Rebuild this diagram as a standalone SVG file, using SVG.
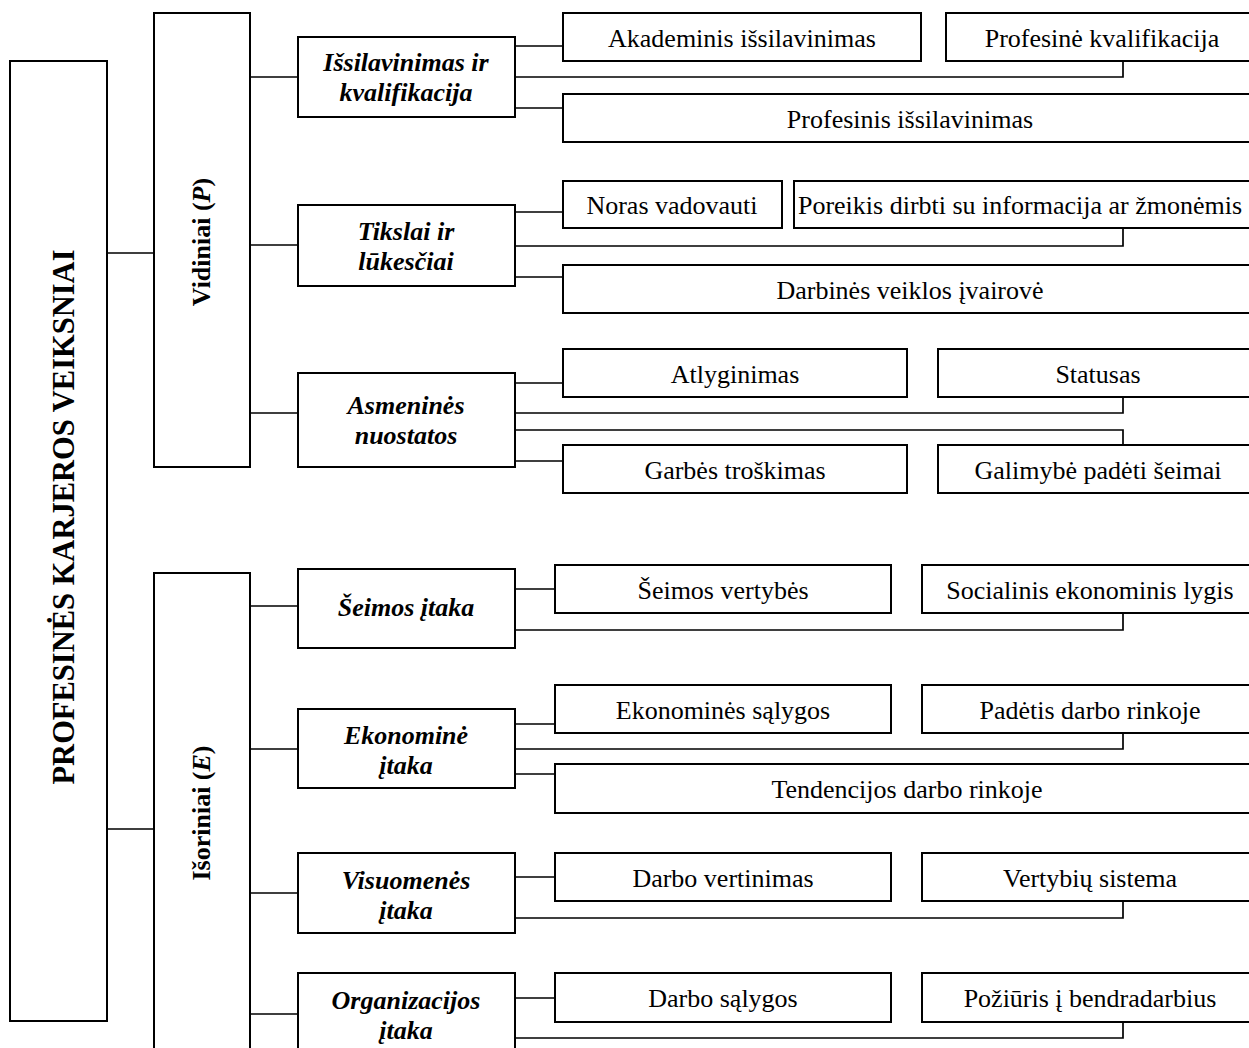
<svg xmlns="http://www.w3.org/2000/svg" width="1249" height="1048" viewBox="0 0 1249 1048">
<style>
.box{fill:#fff;stroke:#000;stroke-width:2}
.ln{fill:none;stroke:#000;stroke-width:1.7}
text{font-family:"Liberation Serif","Times New Roman",serif;fill:#000}
.leaf{font-size:26px;text-anchor:middle}
.cat{font-size:26px;font-weight:bold;font-style:italic;text-anchor:middle}
.vert{font-size:26px;font-weight:bold;text-anchor:middle}
</style>
<rect x="0" y="0" width="1249" height="1048" fill="#fff"/>
<g id="connectors">
<path class="ln" d="M107 253H154M107 829H154"/>
<path class="ln" d="M250 77H298M250 245H298M250 413H298"/>
<path class="ln" d="M250 606H298M250 749H298M250 893H298M250 1014H298"/>
<path class="ln" d="M515 46H563M515 77H1123V61M515 108H563"/>
<path class="ln" d="M515 212H563M515 246H1123V228M515 277H563"/>
<path class="ln" d="M515 383H563M515 413H1123V397M515 430H1123V445M515 461H563"/>
<path class="ln" d="M515 589H555M515 630H1123V613"/>
<path class="ln" d="M515 724H555M515 749H1123V733M515 774H555"/>
<path class="ln" d="M515 877H555M515 918H1123V901"/>
<path class="ln" d="M515 998H555M515 1038H1123V1022"/>
</g>
<g id="root"><rect class="box" x="10" y="61" width="97" height="960"/><text class="vert" style="font-size:30.5px" transform="translate(74 517) rotate(-90)">PROFESINĖS KARJEROS VEIKSNIAI</text></g>
<g id="vidiniai"><rect class="box" x="154" y="13" width="96" height="454"/><text class="vert" transform="translate(210 242) rotate(-90)">Vidiniai (<tspan font-style="italic">P</tspan>)</text></g>
<g id="isoriniai"><rect class="box" x="154" y="573" width="96" height="500"/><text class="vert" transform="translate(210 813) rotate(-90)">Išoriniai (<tspan font-style="italic">E</tspan>)</text></g>
<g id="c1"><rect class="box" x="298" y="37" width="217" height="80"/><text class="cat" x="406" y="71">Išsilavinimas ir</text><text class="cat" x="406" y="101">kvalifikacija</text></g>
<g id="c2"><rect class="box" x="298" y="205" width="217" height="81"/><text class="cat" x="406" y="240">Tikslai ir</text><text class="cat" x="406" y="270">lūkesčiai</text></g>
<g id="c3"><rect class="box" x="298" y="373" width="217" height="94"/><text class="cat" x="406" y="414">Asmeninės</text><text class="cat" x="406" y="444">nuostatos</text></g>
<g id="c4"><rect class="box" x="298" y="569" width="217" height="79"/><text class="cat" x="406" y="616">Šeimos įtaka</text></g>
<g id="c5"><rect class="box" x="298" y="709" width="217" height="79"/><text class="cat" x="406" y="744">Ekonominė</text><text class="cat" x="406" y="774">įtaka</text></g>
<g id="c6"><rect class="box" x="298" y="853" width="217" height="80"/><text class="cat" x="406" y="889">Visuomenės</text><text class="cat" x="406" y="919">įtaka</text></g>
<g id="c7"><rect class="box" x="298" y="973" width="217" height="85"/><text class="cat" x="406" y="1009">Organizacijos</text><text class="cat" x="406" y="1039">įtaka</text></g>
<g id="l1"><rect class="box" x="563" y="13" width="358" height="48"/><text class="leaf" x="742" y="47">Akademinis išsilavinimas</text></g>
<g id="l2"><rect class="box" x="946" y="13" width="312" height="48"/><text class="leaf" x="1102" y="47">Profesinė kvalifikacija</text></g>
<g id="l3"><rect class="box" x="563" y="94" width="695" height="48"/><text class="leaf" x="910" y="128">Profesinis išsilavinimas</text></g>
<g id="l4"><rect class="box" x="563" y="181" width="219" height="47"/><text class="leaf" x="672" y="214">Noras vadovauti</text></g>
<g id="l5"><rect class="box" x="794" y="181" width="464" height="47"/><text class="leaf" x="1020" y="214">Poreikis dirbti su informacija ar žmonėmis</text></g>
<g id="l6"><rect class="box" x="563" y="265" width="695" height="48"/><text class="leaf" x="910" y="299">Darbinės veiklos įvairovė</text></g>
<g id="l7"><rect class="box" x="563" y="349" width="344" height="48"/><text class="leaf" x="735" y="383">Atlyginimas</text></g>
<g id="l8"><rect class="box" x="938" y="349" width="320" height="48"/><text class="leaf" x="1098" y="383">Statusas</text></g>
<g id="l9"><rect class="box" x="563" y="445" width="344" height="48"/><text class="leaf" x="735" y="479">Garbės troškimas</text></g>
<g id="l10"><rect class="box" x="938" y="445" width="320" height="48"/><text class="leaf" x="1098" y="479">Galimybė padėti šeimai</text></g>
<g id="l11"><rect class="box" x="555" y="565" width="336" height="48"/><text class="leaf" x="723" y="599">Šeimos vertybės</text></g>
<g id="l12"><rect class="box" x="922" y="565" width="336" height="48"/><text class="leaf" x="1090" y="599">Socialinis ekonominis lygis</text></g>
<g id="l13"><rect class="box" x="555" y="685" width="336" height="48"/><text class="leaf" x="723" y="719">Ekonominės sąlygos</text></g>
<g id="l14"><rect class="box" x="922" y="685" width="336" height="48"/><text class="leaf" x="1090" y="719">Padėtis darbo rinkoje</text></g>
<g id="l15"><rect class="box" x="555" y="764" width="703" height="49"/><text class="leaf" x="907" y="798">Tendencijos darbo rinkoje</text></g>
<g id="l16"><rect class="box" x="555" y="853" width="336" height="48"/><text class="leaf" x="723" y="887">Darbo vertinimas</text></g>
<g id="l17"><rect class="box" x="922" y="853" width="336" height="48"/><text class="leaf" x="1090" y="887">Vertybių sistema</text></g>
<g id="l18"><rect class="box" x="555" y="973" width="336" height="49"/><text class="leaf" x="723" y="1007">Darbo sąlygos</text></g>
<g id="l19"><rect class="box" x="922" y="973" width="336" height="49"/><text class="leaf" x="1090" y="1007">Požiūris į bendradarbius</text></g>
</svg>
